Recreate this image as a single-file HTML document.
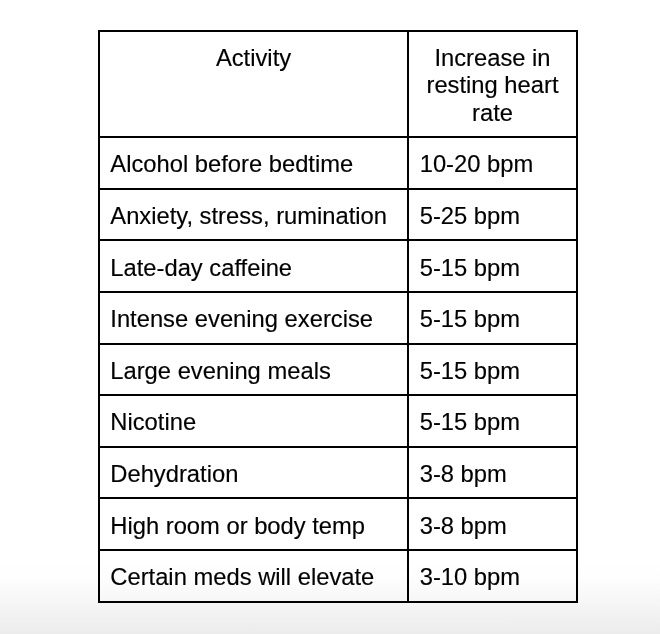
<!DOCTYPE html>
<html><head><meta charset="utf-8"><style>
html,body{margin:0;padding:0}
body{width:660px;height:634px;position:relative;overflow:hidden;background:#fff;font-family:"Liberation Sans",sans-serif;}
.bg{position:absolute;left:0;top:560px;width:660px;height:74px;background:linear-gradient(#fff 0px,#fff 2px,#fdfdfd 20px,#f7f7f7 40px,#f0f0f0 60px,#ececec 74px);}
.h{position:absolute;left:98px;width:480px;height:2px;background:#000;}
.v{position:absolute;top:30px;height:573px;width:2px;background:#000;}
.t{position:absolute;font-size:23.75px;line-height:30px;white-space:nowrap;color:#000;-webkit-text-stroke:0.15px #000;}
.c{width:300px;text-align:center;}
.w{position:absolute;left:0;top:0;width:660px;height:634px;filter:grayscale(1);}
</style></head><body>
<div class="bg"></div>
<div class="w">
<div class="h" style="top:30px"></div>
<div class="h" style="top:136px"></div>
<div class="h" style="top:188px"></div>
<div class="h" style="top:239px"></div>
<div class="h" style="top:291px"></div>
<div class="h" style="top:343px"></div>
<div class="h" style="top:394px"></div>
<div class="h" style="top:446px"></div>
<div class="h" style="top:497px"></div>
<div class="h" style="top:549px"></div>
<div class="h" style="top:601px"></div>
<div class="v" style="left:98px"></div>
<div class="v" style="left:407px"></div>
<div class="v" style="left:576px"></div>
<div class="t c" style="left:103.50px;top:42.77px">Activity</div>
<div class="t c" style="left:342.50px;top:42.77px">Increase in</div>
<div class="t c" style="left:342.50px;top:69.77px">resting heart</div>
<div class="t c" style="left:342.50px;top:97.77px">rate</div>
<div class="t" style="left:110.3px;top:148.77px">Alcohol before bedtime</div>
<div class="t" style="left:419.7px;top:148.77px">10-20 bpm</div>
<div class="t" style="left:110.3px;top:200.77px">Anxiety, stress, rumination</div>
<div class="t" style="left:419.7px;top:200.77px">5-25 bpm</div>
<div class="t" style="left:110.3px;top:252.77px">Late-day caffeine</div>
<div class="t" style="left:419.7px;top:252.77px">5-15 bpm</div>
<div class="t" style="left:110.3px;top:303.77px">Intense evening exercise</div>
<div class="t" style="left:419.7px;top:303.77px">5-15 bpm</div>
<div class="t" style="left:110.3px;top:355.77px">Large evening meals</div>
<div class="t" style="left:419.7px;top:355.77px">5-15 bpm</div>
<div class="t" style="left:110.3px;top:406.77px">Nicotine</div>
<div class="t" style="left:419.7px;top:406.77px">5-15 bpm</div>
<div class="t" style="left:110.3px;top:458.77px">Dehydration</div>
<div class="t" style="left:419.7px;top:458.77px">3-8 bpm</div>
<div class="t" style="left:110.3px;top:510.77px">High room or body temp</div>
<div class="t" style="left:419.7px;top:510.77px">3-8 bpm</div>
<div class="t" style="left:110.3px;top:561.77px">Certain meds will elevate</div>
<div class="t" style="left:419.7px;top:561.77px">3-10 bpm</div>
</div>
</body></html>
